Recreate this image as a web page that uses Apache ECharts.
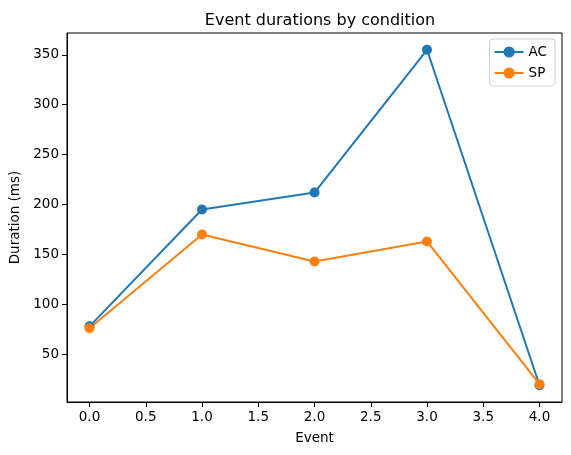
<!DOCTYPE html>
<html>
<head>
<meta charset="utf-8">
<script src="https://cdn.jsdelivr.net/npm/echarts@6/dist/echarts.min.js"></script>
<style>
  html, body { margin: 0; padding: 0; background: #fff; }
  #chart { width: 571px; height: 455px; }
</style>
</head>
<body>
<div id="chart"></div>
<script>
  // values
  const events = [0, 1, 2, 3, 4];
  const acValues = [78, 195, 212, 355, 19];
  const spValues = [76, 170, 143, 163, 20];
  const xTicks = [0, 0.5, 1, 1.5, 2, 2.5, 3, 3.5, 4];
  const yTicks = [50, 100, 150, 200, 250, 300, 350];

  const font = 'DejaVu Sans';
  const chart = echarts.init(document.getElementById('chart'));

  const makeSeries = (name, vals, color) => ({
    name: name,
    type: 'line',
    data: events.map((e, i) => [e, vals[i]]),
    symbol: 'circle',
    symbolSize: 10,
    showSymbol: true,
    lineStyle: { color: color, width: 2 },
    itemStyle: { color: color },
    animation: false
  });

  chart.setOption({
    backgroundColor: '#fff',
    textStyle: { fontFamily: font },
    title: {
      text: 'Event durations by condition',
      left: 315, top: 8, textAlign: 'center',
      textStyle: { fontFamily: font, fontSize: 16, fontWeight: 'normal', color: '#000' }
    },
    legend: {
      orient: 'vertical',
      right: 16, top: 39,
      padding: [6, 8, 6, 4],
      itemWidth: 29, itemHeight: 14, itemGap: 7,
      backgroundColor: '#fff',
      borderColor: '#d0d0d0', borderWidth: 1, borderRadius: 3,
      textStyle: { fontFamily: font, fontSize: 13.5, color: '#000' },
      data: ['AC', 'SP']
    },
    grid: { left: 67, right: 9, top: 33, bottom: 53, containLabel: false },
    xAxis: {
      type: 'value',
      min: -0.2, max: 4.2,
      name: 'Event', nameLocation: 'middle', nameGap: 29,
      nameTextStyle: { fontFamily: font, fontSize: 13.5, color: '#000' },
      axisLine: { show: true, onZero: false, lineStyle: { color: '#000', width: 1 } },
      axisTick: { show: true, length: 5, customValues: xTicks, lineStyle: { color: '#000' } },
      axisLabel: { customValues: xTicks, fontSize: 13.5, color: '#000', margin: 8,
        formatter: v => v.toFixed(1) },
      splitLine: { show: false }
    },
    yAxis: {
      type: 'value',
      min: 2.2, max: 371.8,
      name: 'Duration (ms)', nameLocation: 'middle', nameGap: 42, nameRotate: 90,
      nameTextStyle: { fontFamily: font, fontSize: 13.5, color: '#000' },
      axisLine: { show: true, onZero: false, lineStyle: { color: '#000', width: 1 } },
      axisTick: { show: true, length: 5, customValues: yTicks, lineStyle: { color: '#000' } },
      axisLabel: { customValues: yTicks, fontSize: 13.5, color: '#000', margin: 8 },
      splitLine: { show: false }
    },
    graphic: [{
      type: 'rect', silent: true, z: 100,
      shape: { x: 67, y: 33, width: 495, height: 369 },
      style: { fill: 'none', stroke: '#000', lineWidth: 1 }
    }],
    series: [
      makeSeries('AC', acValues, '#1f77b4'),
      makeSeries('SP', spValues, '#ff7f0e')
    ]
  });
</script>
</body>
</html>
